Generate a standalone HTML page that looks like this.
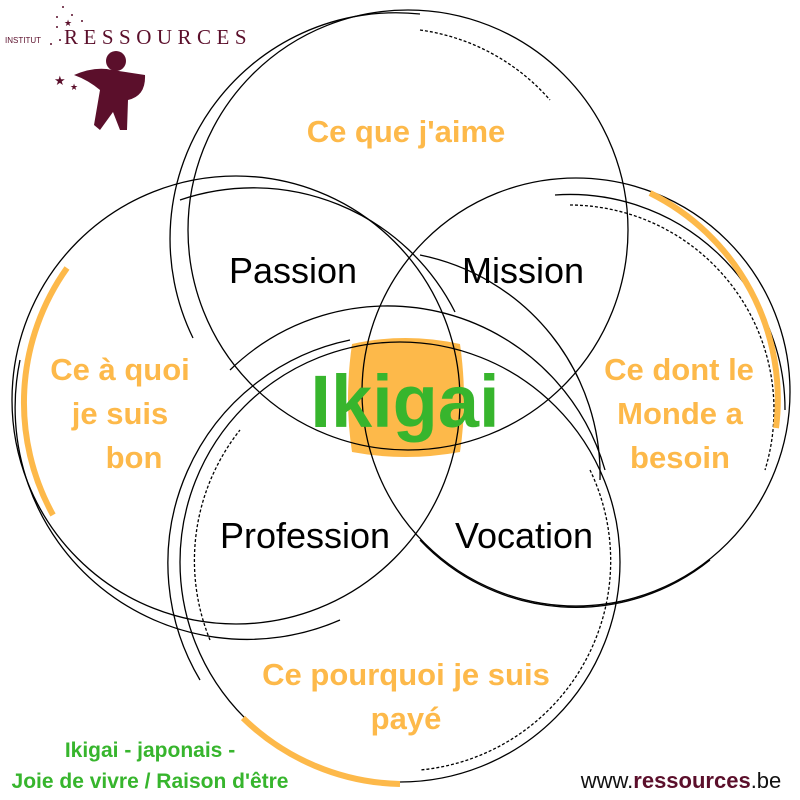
<!DOCTYPE html>
<html><head><meta charset="utf-8"><style>
html,body{margin:0;padding:0;background:#fff;width:800px;height:800px;overflow:hidden}
svg{display:block}
text{font-family:"Liberation Sans",Arial,sans-serif}
</style></head><body>
<svg width="800" height="800" viewBox="0 0 800 800" xmlns="http://www.w3.org/2000/svg">
<path d="M352 344 Q405 332 460 344 Q468 400 460 452 Q405 462 352 452 Q344 400 352 344Z" fill="#FDB94A"/>
<g fill="none" stroke="#000" stroke-width="1.3">
<circle cx="408" cy="230" r="220"/>
<circle cx="236" cy="400" r="224"/>
<circle cx="576" cy="392" r="214"/>
<circle cx="400" cy="562" r="220"/>
<path d="M193 338 A226 226 0 0 1 420 14"/>
<path d="M420 30 A210 210 0 0 1 550 100" stroke-dasharray="3,2"/>
<path d="M420 255 A224 224 0 0 1 600 480"/>
<path d="M555 195 A215 215 0 0 1 785 410"/>
<path d="M570 205 A205 205 0 0 1 765 470" stroke-dasharray="3,2"/>
<path d="M340 620 A232 232 0 0 1 20 360"/>
<path d="M455 312 A226 226 0 0 0 180 200"/>
<path d="M605 470 A226 226 0 0 0 230 370"/>
<path d="M200 680 A228 228 0 0 1 350 340"/>
<path d="M590 470 A210 210 0 0 1 420 770" stroke-dasharray="3,2"/>
<path d="M210 640 A210 210 0 0 1 240 430" stroke-dasharray="3,2"/>
<path d="M420 540 A214 214 0 0 0 710 560"/>
</g>
<g fill="none" stroke="#FDB94A" stroke-width="6">
<path d="M650 193 A230 230 0 0 1 776 428"/>
<path d="M67 268 A232 232 0 0 0 53 515"/>
<path d="M243 718 A232 232 0 0 0 400 784"/>
</g>
<g font-weight="bold" fill="#FDB94A" font-size="31" text-anchor="middle">
<text x="406" y="142">Ce que j'aime</text>
<text x="120" y="380">Ce à quoi</text>
<text x="120" y="424">je suis</text>
<text x="134" y="468">bon</text>
<text x="679" y="380">Ce dont le</text>
<text x="680" y="424">Monde a</text>
<text x="680" y="468">besoin</text>
<text x="406" y="685">Ce pourquoi je suis</text>
<text x="406" y="729">payé</text>
</g>
<g fill="#000" font-size="36" text-anchor="middle">
<text x="293" y="283">Passion</text>
<text x="523" y="283">Mission</text>
<text x="305" y="548">Profession</text>
<text x="524" y="548">Vocation</text>
</g>
<text x="405" y="427" text-anchor="middle" font-size="74" font-weight="bold" fill="#37B52D">Ikigai</text>
<g font-weight="bold" fill="#37B52D" font-size="21" text-anchor="middle">
<text x="150" y="757">Ikigai - japonais -</text>
<text x="150" y="788">Joie de vivre / Raison d'être</text>
</g>
<text x="681" y="788" text-anchor="middle" font-size="22" fill="#111">www.<tspan font-weight="bold" fill="#5B0F2B">ressources</tspan>.be</text>
<g fill="#5B0F2B">
<text x="5" y="43" font-size="8">INSTITUT</text>
<text x="64" y="44" style="font-family:'Liberation Serif',serif" font-size="21" letter-spacing="5.5">RESSOURCES</text>
<circle cx="63" cy="7" r="1"/><circle cx="57" cy="17" r="1"/><circle cx="72" cy="15" r="1"/><circle cx="82" cy="21" r="1"/><circle cx="57" cy="27" r="1"/><circle cx="60" cy="40" r="1"/><circle cx="51" cy="44" r="1"/>
<text x="64" y="26" font-size="9">★</text>
<circle cx="116" cy="61" r="10"/>
<path d="M74 75 Q95 66 112 70 L145 75 Q146 96 128 100 L127 130 L120 130 L113 112 L100 130 L94 125 L100 90 Q88 80 74 75Z"/>
<text x="54" y="85" font-size="13">★</text>
<text x="70" y="90" font-size="9">★</text>
</g>
</svg>
</body></html>
